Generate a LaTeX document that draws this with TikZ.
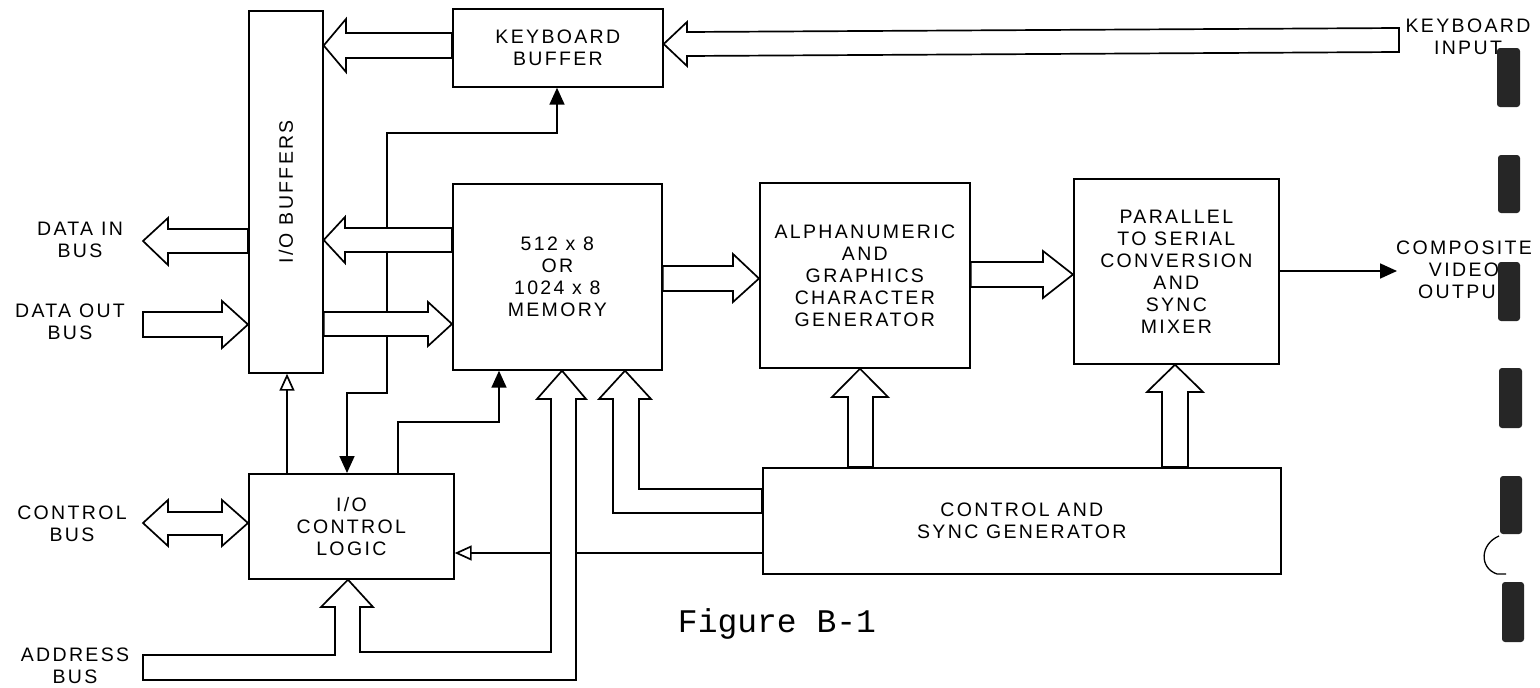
\documentclass[tikz,border=0pt]{standalone}
\usepackage{fontspec}
\usetikzlibrary{arrows.meta}
\newfontfamily\lblfont{Liberation Sans}[LetterSpace=12]
\newfontfamily\capfont{Liberation Mono}
\begin{document}
\begin{tikzpicture}[x=1pt,y=-1pt,
  lbl/.style={font={\lblfont\fontsize{19.5}{22}\selectfont}, align=center, inner sep=0pt},
  blk/.style={draw, line width=1.7pt, inner sep=0pt, anchor=north west, lbl},
  sig/.style={line width=1.7pt},
  fat/.style={draw, fill=white, line width=1.7pt, line join=miter},
  solidtip/.style={-{Triangle[length=17pt,width=15pt]}},
  bothtip/.style={{Triangle[length=17pt,width=15pt]}-{Triangle[length=17pt,width=15pt]}},
  opentip/.style={-{Triangle[open,length=17pt,width=15pt]}},
  hole/.style={fill=black!85, rounded corners=3pt},
]
\useasboundingbox (0,0) rectangle (1540,688);
\fill[white] (0,0) rectangle (1540,688);

% blocks
\node[blk, minimum width=74pt, minimum height=362pt] (iob) at (248,10) {};
\node[lbl, rotate=90] (iobtxt) at (iob.center) {I/O BUFFERS};
\node[blk, minimum width=210pt, minimum height=78pt] (kb) at (452,8) {KEYBOARD\\BUFFER};
\node[blk, minimum width=209pt, minimum height=186pt] (mem) at (452,183) {512 x 8\\OR\\1024 x 8\\MEMORY};
\node[blk, minimum width=210pt, minimum height=185pt] (alpha) at (759,182) {ALPHANUMERIC\\AND\\GRAPHICS\\CHARACTER\\GENERATOR};
\node[blk, minimum width=205pt, minimum height=185pt] (par) at (1073,178) {PARALLEL\\TO SERIAL\\CONVERSION\\AND\\SYNC\\MIXER};
\node[blk, minimum width=205pt, minimum height=105pt] (ctl) at (248,473) {I/O\\CONTROL\\LOGIC};
\node[blk, minimum width=518pt, minimum height=106pt] (sync) at (762,467) {CONTROL AND\\SYNC GENERATOR};

% outside labels
\node[lbl] (datain) at (80,240) {DATA IN\\BUS};
\node[lbl] (dataout) at (70,322) {DATA OUT\\BUS};
\node[lbl] (ctlbus) at (72,524) {CONTROL\\BUS};
\node[lbl] (addrbus) at (75,666) {ADDRESS\\BUS};
\node[lbl] (kbin) at (1468,37) {KEYBOARD\\INPUT};
\node[lbl] (video) at (1464,270) {COMPOSITE\\VIDEO\\OUTPUT};
\node[font={\capfont\fontsize{33}{36}\selectfont}, inner sep=0pt] (fig) at (777,624) {Figure B-1};

% free ends
\coordinate (kbtail) at (1399,40);
\coordinate (dintip) at (143,241);
\coordinate (douttail) at (143,324.5);
\coordinate (cbtip) at (143,523);
\coordinate (abtail) at (143,667);
\coordinate (vidtip) at (1397,271);

% thin control lines
\draw[sig, bothtip] (557,0 |- kb.south) -- (557,133) -- (387,133) -- (387,393) -- (347,393) -- (347,0 |- ctl.north);
\draw[sig, solidtip] (398,0 |- ctl.north) -- (398,422) -- (499,422) -- (499,0 |- mem.south);
\draw[sig, opentip] (287,0 |- ctl.north) -- (287,0 |- iob.south);
\draw[sig, opentip] (sync.west |- 0,553) -- (ctl.east |- 0,553);
\draw[sig, solidtip] (par.east |- 0,271) -- (vidtip);

% fat bus arrows
\path[fat] (kb.west |- 0,33) -- (346,33) -- (346,19) -- (iob.east |- 0,45.5) -- (346,72) -- (346,58) -- (kb.west |- 0,58) -- cycle;
\path[fat] (kbtail |- 0,28) -- (687,32) -- (687,22) -- (kb.east |- 0,44) -- (687,66) -- (687,56) -- (kbtail |- 0,52) -- cycle;
\path[fat] (mem.west |- 0,228) -- (345,228) -- (345,217) -- (iob.east |- 0,240) -- (345,263) -- (345,252) -- (mem.west |- 0,252) -- cycle;
\path[fat] (iob.east |- 0,312) -- (428,312) -- (428,302) -- (mem.west |- 0,324) -- (428,346) -- (428,336) -- (iob.east |- 0,336) -- cycle;
\path[fat] (iob.west |- 0,229) -- (168,229) -- (168,218) -- (dintip) -- (168,265) -- (168,253) -- (iob.west |- 0,253) -- cycle;
\path[fat] (douttail |- 0,312) -- (222,312) -- (222,301) -- (iob.west |- 0,324.5) -- (222,348) -- (222,337) -- (douttail |- 0,337) -- cycle;
\path[fat] (cbtip) -- (168,500) -- (168,512) -- (222,512) -- (222,500) -- (ctl.west |- 0,523) -- (222,546) -- (222,535) -- (168,535) -- (168,546) -- cycle;
\path[fat] (mem.east |- 0,266) -- (733,266) -- (733,254) -- (alpha.west |- 0,278.5) -- (733,302) -- (733,291) -- (mem.east |- 0,291) -- cycle;
\path[fat] (alpha.east |- 0,262) -- (1043,262) -- (1043,251) -- (par.west |- 0,274.5) -- (1043,298) -- (1043,287) -- (alpha.east |- 0,287) -- cycle;
\path[fat] (848,0 |- sync.north) -- (848,397) -- (832,397) -- (860,0 |- alpha.south) -- (888,397) -- (873,397) -- (873,0 |- sync.north) -- cycle;
\path[fat] (1162,0 |- sync.north) -- (1162,392) -- (1147,392) -- (1175,0 |- par.south) -- (1203,392) -- (1188,392) -- (1188,0 |- sync.north) -- cycle;
\path[fat] (sync.west |- 0,489) -- (639,489) -- (639,399) -- (651,399) -- (625,0 |- mem.south) -- (599,399) -- (613,399) -- (613,513) -- (sync.west |- 0,513) -- cycle;
\path[fat] (abtail |- 0,655) -- (335,655) -- (335,607) -- (321,607) -- (348,0 |- ctl.south) -- (373,607) -- (360,607) -- (360,652) -- (551,652) -- (551,399) -- (537,399) -- (562,0 |- mem.south) -- (586,399) -- (576,399) -- (576,680) -- (abtail |- 0,680) -- cycle;

% punch marks at the right edge
\fill[hole] (1497,48) rectangle (1520,107);
\fill[hole] (1498,155) rectangle (1520,213);
\fill[hole] (1498,262) rectangle (1520,321);
\fill[hole] (1499,368) rectangle (1522,428);
\fill[hole] (1500,476) rectangle (1522,534);
\fill[hole] (1502,582) rectangle (1524,642);
\draw[line width=1.3pt] (1499,536) .. controls (1480,544) and (1479,568) .. (1497,574) -- (1506,574);
\end{tikzpicture}
\end{document}
